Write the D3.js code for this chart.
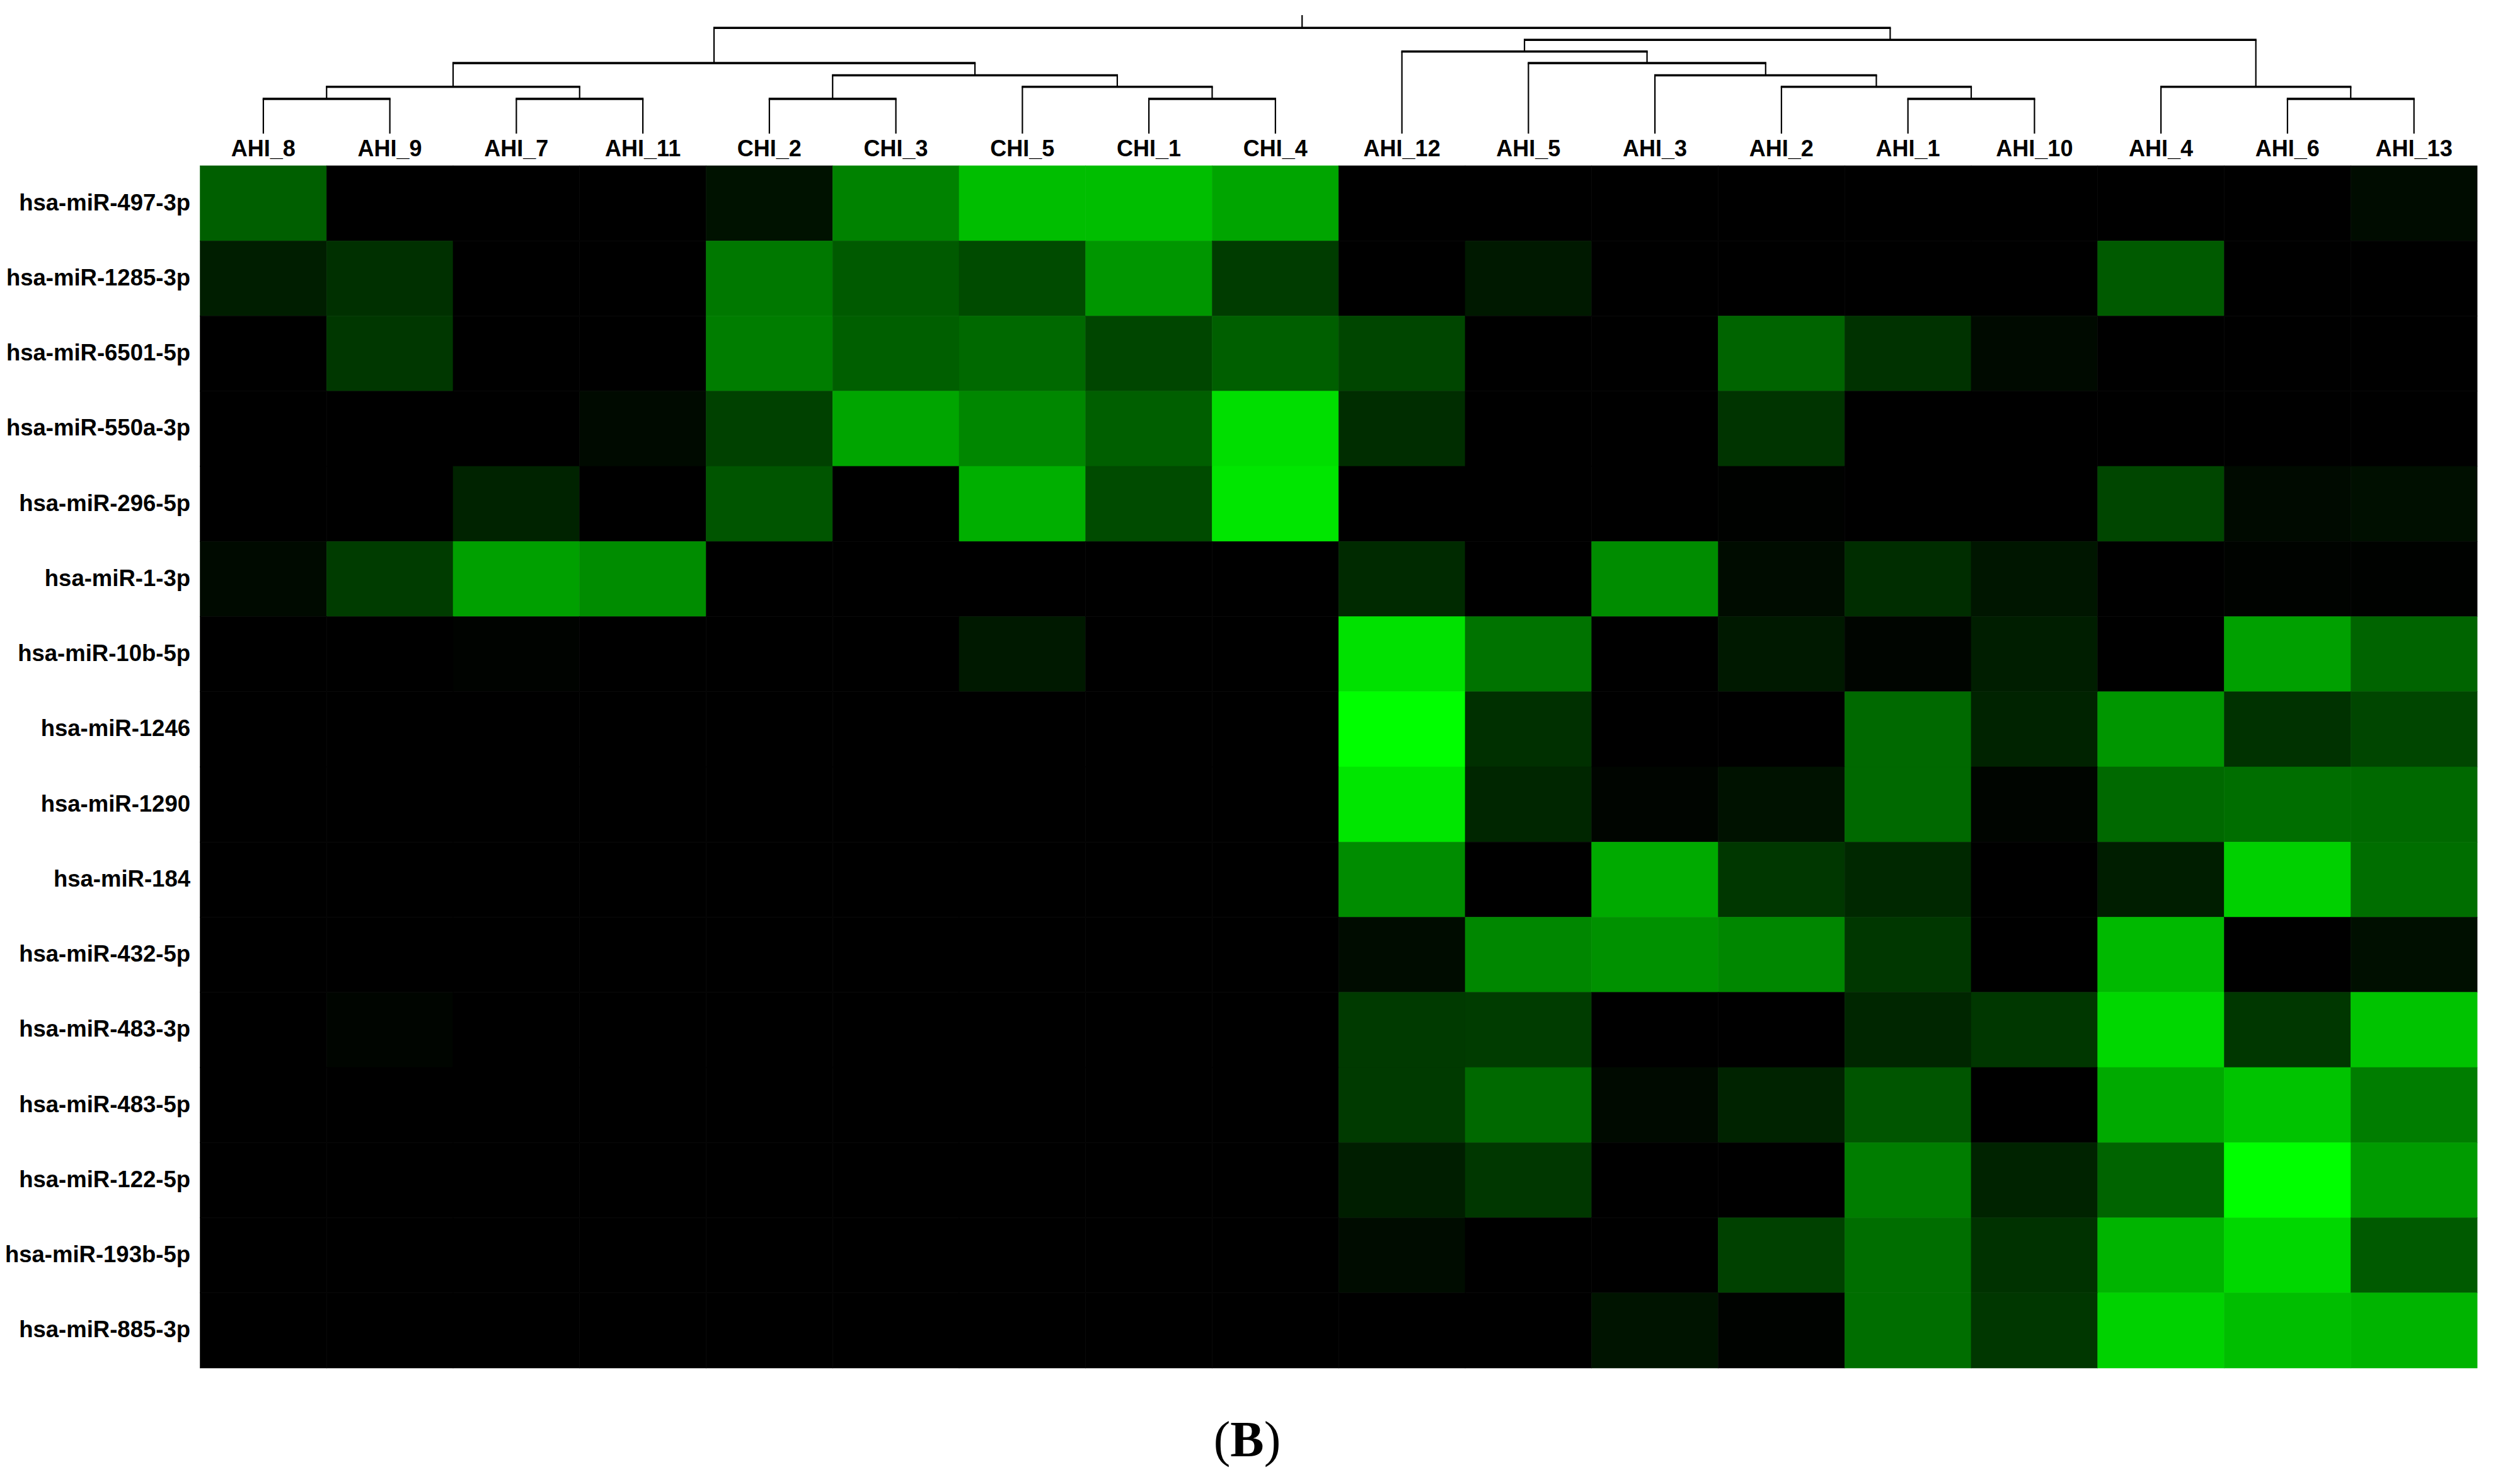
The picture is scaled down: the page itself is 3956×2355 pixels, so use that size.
<!DOCTYPE html>
<html lang="en">
<head>
    <meta charset="UTF-8">
    <title>miRNA heatmap (B)</title>
    <style>
        html, body { margin: 0; padding: 0; background: #fff; }
        svg { display: block; }
        .col-label, .row-label { font-family: "Liberation Sans", Arial, sans-serif; font-weight: bold; font-size: 36px; fill: #000; }
        .row-label { font-size: 36.5px; }
        .panel { font-family: "Liberation Serif", "Times New Roman", serif; font-size: 80px; fill: #000; }
    </style>
    <script src="https://d3js.org/d3.v7.min.js"></script>
</head>
<body>
    <div id="chart"></div>
    <script>
        // sample order along the top
        const samples = ["AHI_8", "AHI_9", "AHI_7", "AHI_11", "CHI_2", "CHI_3", "CHI_5", "CHI_1", "CHI_4",
            "AHI_12", "AHI_5", "AHI_3", "AHI_2", "AHI_1", "AHI_10", "AHI_4", "AHI_6", "AHI_13"];

        const mirnas = ["hsa-miR-497-3p", "hsa-miR-1285-3p", "hsa-miR-6501-5p", "hsa-miR-550a-3p", "hsa-miR-296-5p",
            "hsa-miR-1-3p", "hsa-miR-10b-5p", "hsa-miR-1246", "hsa-miR-1290", "hsa-miR-184", "hsa-miR-432-5p",
            "hsa-miR-483-3p", "hsa-miR-483-5p", "hsa-miR-122-5p", "hsa-miR-193b-5p", "hsa-miR-885-3p"];

        // green level, one row per miRNA
        const levels = [
            [95, 0, 0, 0, 18, 130, 190, 190, 165, 0, 0, 0, 0, 0, 0, 0, 0, 12],
            [30, 48, 0, 0, 120, 90, 75, 150, 60, 0, 25, 0, 0, 0, 0, 90, 0, 0],
            [0, 55, 0, 0, 125, 95, 105, 70, 95, 70, 0, 0, 100, 50, 10, 0, 0, 0],
            [0, 0, 0, 10, 65, 165, 135, 95, 222, 45, 0, 0, 52, 0, 0, 0, 0, 0],
            [0, 0, 35, 0, 85, 0, 175, 75, 230, 0, 0, 0, 2, 0, 0, 70, 10, 15],
            [10, 60, 160, 140, 0, 0, 0, 0, 0, 42, 0, 140, 12, 45, 22, 0, 3, 2],
            [0, 0, 3, 0, 0, 0, 25, 0, 0, 225, 115, 0, 25, 5, 30, 0, 160, 100],
            [0, 0, 0, 0, 0, 0, 0, 0, 0, 255, 48, 0, 0, 105, 35, 150, 50, 70],
            [0, 0, 0, 0, 0, 0, 0, 0, 0, 230, 38, 5, 18, 105, 5, 105, 110, 105],
            [0, 0, 0, 0, 0, 0, 0, 0, 0, 140, 0, 170, 55, 40, 0, 30, 208, 110],
            [0, 0, 0, 0, 0, 0, 0, 0, 0, 12, 135, 145, 135, 55, 0, 185, 0, 15],
            [0, 5, 0, 0, 0, 0, 0, 0, 0, 58, 60, 0, 0, 38, 55, 215, 55, 195],
            [0, 0, 0, 0, 0, 0, 0, 0, 0, 58, 105, 10, 35, 85, 0, 170, 195, 125],
            [0, 0, 0, 0, 0, 0, 0, 0, 0, 30, 55, 0, 0, 125, 35, 100, 255, 155],
            [0, 0, 0, 0, 0, 0, 0, 0, 0, 12, 0, 0, 65, 110, 50, 180, 215, 90],
            [0, 0, 0, 0, 0, 0, 0, 0, 0, 0, 0, 20, 3, 110, 55, 210, 190, 180]
        ];

        // clustering merges: [left, right, height], numbers point at an earlier merge
        const merges = [
            ["AHI_8", "AHI_9", 2.93],
            ["AHI_7", "AHI_11", 2.93],
            [0, 1, 3.95],
            ["CHI_2", "CHI_3", 2.93],
            ["CHI_1", "CHI_4", 2.93],
            ["CHI_5", 4, 3.95],
            [3, 5, 4.92],
            [2, 6, 5.95],
            ["AHI_1", "AHI_10", 2.93],
            ["AHI_2", 8, 3.95],
            ["AHI_3", 9, 4.92],
            ["AHI_5", 10, 5.95],
            ["AHI_12", 11, 6.93],
            ["AHI_6", "AHI_13", 2.93],
            ["AHI_4", 13, 3.95],
            [12, 14, 7.91],
            [7, 15, 8.92]
        ];

        const width = 3956;
        const height = 2355;
        const heat = { left: 317.5, right: 3931, top: 263, bottom: 2171 };

        const svg = d3.select("#chart").append("svg")
            .attr("width", width)
            .attr("height", height)
            .attr("viewBox", `0 0 ${width} ${height}`);

        const x = d3.scaleBand().domain(samples).range([heat.left, heat.right]);
        const y = d3.scaleBand().domain(mirnas).range([heat.top, heat.bottom]);
        const color = d3.scaleLinear().domain([0, 255]).range(["#000000", "#00ff00"]);
        const treeY = d3.scaleLinear().domain([0, 10]).range([212, 24]);

        // heatmap cells
        const cells = mirnas.flatMap((m, r) => samples.map((s, c) => ({ m, s, v: levels[r][c] })));
        svg.append("g").selectAll("rect")
            .data(cells)
            .enter()
            .append("rect")
            .attr("x", d => x(d.s))
            .attr("y", d => y(d.m))
            .attr("width", x.bandwidth())
            .attr("height", y.bandwidth())
            .attr("fill", d => color(d.v))
            .attr("stroke", d => color(d.v))
            .attr("stroke-width", 0.6);

        // labels
        svg.append("g").selectAll("text")
            .data(samples)
            .enter()
            .append("text")
            .attr("class", "col-label")
            .attr("x", d => x(d) + x.bandwidth() / 2)
            .attr("y", 248)
            .attr("text-anchor", "middle")
            .text(d => d);

        svg.append("g").selectAll("text")
            .data(mirnas)
            .enter()
            .append("text")
            .attr("class", "row-label")
            .attr("x", 302)
            .attr("y", d => y(d) + y.bandwidth() / 2 + 11)
            .attr("text-anchor", "end")
            .text(d => d);

        // dendrogram, built from the merge table
        const nodes = [];
        const toNode = k => typeof k === "number"
            ? nodes[k]
            : { x: x(k) + x.bandwidth() / 2, h: 0 };
        const tree = svg.append("g").attr("stroke", "#000").attr("fill", "none");

        merges.forEach(([a, b, h]) => {
            const l = toNode(a);
            const r = toNode(b);
            nodes.push({ x: (l.x + r.x) / 2, h });
            [l, r].forEach(n => {
                tree.append("line")
                    .attr("x1", n.x).attr("x2", n.x)
                    .attr("y1", treeY(n.h)).attr("y2", treeY(h))
                    .attr("stroke-width", 2.2);
            });
            tree.append("line")
                .attr("x1", l.x - 1.1).attr("x2", r.x + 1.1)
                .attr("y1", treeY(h)).attr("y2", treeY(h))
                .attr("stroke-width", 3.6);
        });

        const root = nodes[nodes.length - 1];
        tree.append("line")
            .attr("x1", root.x).attr("x2", root.x)
            .attr("y1", treeY(root.h)).attr("y2", treeY(10))
            .attr("stroke-width", 2.2);

        // panel letter
        const panel = svg.append("text")
            .attr("class", "panel")
            .attr("x", 1979)
            .attr("y", 2311)
            .attr("text-anchor", "middle");
        panel.append("tspan").text("(");
        panel.append("tspan").attr("font-weight", "bold").text("B");
        panel.append("tspan").text(")");
    </script>
</body>
</html>
